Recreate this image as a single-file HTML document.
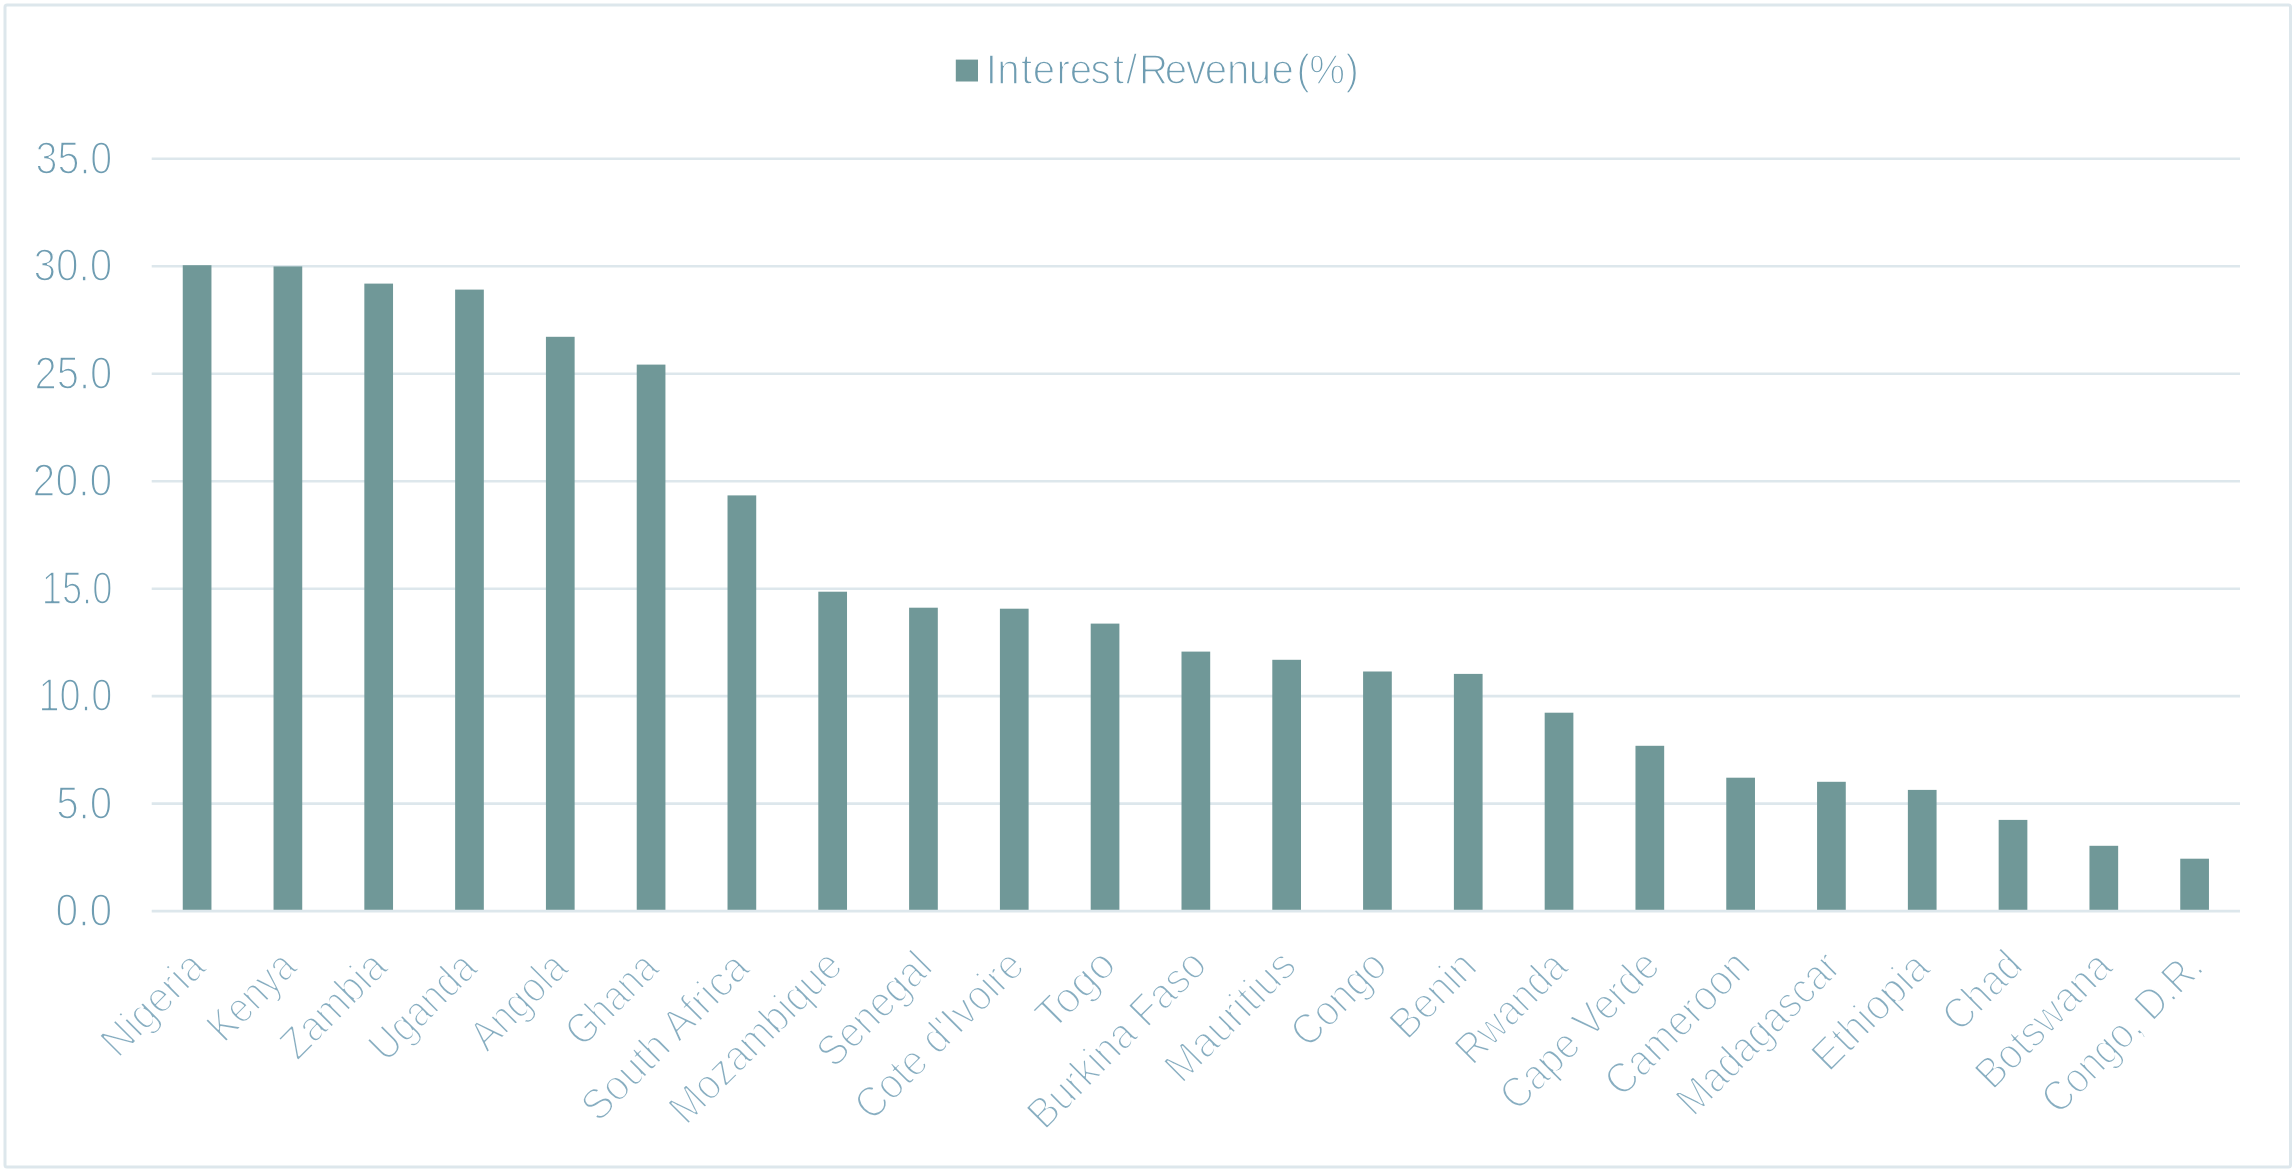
<!DOCTYPE html>
<html lang="en">
<head>
<meta charset="utf-8">
<title>Interest/Revenue (%) by country</title>
<style>
html,body{margin:0;padding:0;background:#fff;}
body{width:2296px;height:1173px;overflow:hidden;}
svg{display:block;will-change:transform;}
text{font-family:"Liberation Sans",sans-serif;fill:#6f9db2;stroke:#fff;stroke-linejoin:round;}
.yl text{font-size:45.5px;stroke-width:1.6px;text-anchor:end;}
.xl text{font-size:43.5px;stroke-width:1.9px;text-anchor:end;fill:#88aec1;}
.lg text{font-size:43px;stroke-width:1.4px;word-spacing:-7.2px;}
</style>
</head>
<body>
<svg width="2296" height="1173" viewBox="0 0 2296 1173">
<rect x="0" y="0" width="2296" height="1173" fill="#fff"/>
<rect class="frame" x="5" y="5" width="2285.5" height="1162" rx="2" ry="2" fill="none" stroke="#dde7ec" stroke-width="3"/>
<g class="grid" stroke="#dde7ec" stroke-width="2.7">
<line x1="151.7" y1="158.77" x2="2240.0" y2="158.77"/>
<line x1="151.7" y1="266.26" x2="2240.0" y2="266.26"/>
<line x1="151.7" y1="373.75" x2="2240.0" y2="373.75"/>
<line x1="151.7" y1="481.24" x2="2240.0" y2="481.24"/>
<line x1="151.7" y1="588.73" x2="2240.0" y2="588.73"/>
<line x1="151.7" y1="696.22" x2="2240.0" y2="696.22"/>
<line x1="151.7" y1="803.71" x2="2240.0" y2="803.71"/>
</g>
<g class="bars" fill="#709898">
<rect x="182.75" y="265.2" width="28.7" height="646.0"/>
<rect x="273.54" y="266.4" width="28.7" height="644.8"/>
<rect x="364.34" y="283.6" width="28.7" height="627.6"/>
<rect x="455.13" y="289.6" width="28.7" height="621.6"/>
<rect x="545.93" y="336.8" width="28.7" height="574.4"/>
<rect x="636.73" y="364.6" width="28.7" height="546.6"/>
<rect x="727.52" y="495.4" width="28.7" height="415.8"/>
<rect x="818.32" y="591.7" width="28.7" height="319.5"/>
<rect x="909.11" y="607.7" width="28.7" height="303.5"/>
<rect x="999.91" y="608.7" width="28.7" height="302.5"/>
<rect x="1090.70" y="623.6" width="28.7" height="287.6"/>
<rect x="1181.50" y="651.6" width="28.7" height="259.6"/>
<rect x="1272.30" y="659.8" width="28.7" height="251.4"/>
<rect x="1363.09" y="671.5" width="28.7" height="239.7"/>
<rect x="1453.89" y="673.9" width="28.7" height="237.3"/>
<rect x="1544.68" y="712.7" width="28.7" height="198.5"/>
<rect x="1635.48" y="745.8" width="28.7" height="165.4"/>
<rect x="1726.27" y="777.7" width="28.7" height="133.5"/>
<rect x="1817.07" y="781.8" width="28.7" height="129.4"/>
<rect x="1907.87" y="789.9" width="28.7" height="121.3"/>
<rect x="1998.66" y="819.9" width="28.7" height="91.3"/>
<rect x="2089.46" y="845.8" width="28.7" height="65.4"/>
<rect x="2180.25" y="858.7" width="28.7" height="52.5"/>
</g>
<line class="axis" x1="151.7" y1="911.20" x2="2240.0" y2="911.20" stroke="#dde7ec" stroke-width="2.7"/>
<g class="yl">
<text transform="translate(112.3 173.6) scale(0.867 1)">35.0</text>
<text transform="translate(112.3 281.1) scale(0.89 1)">30.0</text>
<text transform="translate(112.3 388.6) scale(0.879 1)">25.0</text>
<text transform="translate(112.3 496.0) scale(0.9 1)">20.0</text>
<text transform="translate(112.3 603.5) scale(0.797 1)">15.0</text>
<text transform="translate(112.3 711.0) scale(0.833 1)">10.0</text>
<text transform="translate(112.3 818.5) scale(0.888 1)">5.0</text>
<text transform="translate(112.3 926.0) scale(0.899 1)">0.0</text>
</g>
<g class="xl">
<text id="x0" transform="translate(208.13 969.14) rotate(-45) scale(0.9239 1)">Nigeria</text>
<text id="x1" transform="translate(298.93 969.14) rotate(-45) scale(0.8574 1)">Kenya</text>
<text id="x2" transform="translate(389.73 969.14) rotate(-45) scale(0.9004 1)">Zambia</text>
<text id="x3" transform="translate(479.52 970.14) rotate(-45) scale(0.8663 1)">Uganda</text>
<text id="x4" transform="translate(570.32 970.14) rotate(-45) scale(0.8686 1)">Angola</text>
<text id="x5" transform="translate(661.11 970.14) rotate(-45) scale(0.8480 1)">Ghana</text>
<text id="x6" transform="translate(751.91 970.14) rotate(-45) scale(0.9244 1)">South Africa</text>
<text id="x7" transform="translate(844.70 968.14) rotate(-45) scale(0.8980 1)">Mozambique</text>
<text id="x8" transform="translate(934.50 969.14) rotate(-45) scale(0.8874 1)">Senegal</text>
<text id="x9" transform="translate(1026.30 968.14) rotate(-45) scale(0.8985 1)">Cote d&#39;Ivoire</text>
<text id="x10" transform="translate(1118.09 967.14) rotate(-45) scale(0.9745 1)">Togo</text>
<text id="x11" transform="translate(1208.89 967.14) rotate(-45) scale(0.9056 1)">Burkina Faso</text>
<text id="x12" transform="translate(1298.68 968.14) rotate(-45) scale(0.9352 1)">Mauritius</text>
<text id="x13" transform="translate(1389.48 968.14) rotate(-45) scale(0.8976 1)">Congo</text>
<text id="x14" transform="translate(1479.27 969.14) rotate(-45) scale(0.9156 1)">Benin</text>
<text id="x15" transform="translate(1570.07 969.14) rotate(-45) scale(0.8634 1)">Rwanda</text>
<text id="x16" transform="translate(1661.86 968.14) rotate(-45) scale(0.8903 1)">Cape Verde</text>
<text id="x17" transform="translate(1752.66 968.14) rotate(-45) scale(0.9105 1)">Cameroon</text>
<text id="x18" transform="translate(1842.46 969.14) rotate(-45) scale(0.8790 1)">Madagascar</text>
<text id="x19" transform="translate(1932.25 970.14) rotate(-45) scale(0.9280 1)">Ethiopia</text>
<text id="x20" transform="translate(2025.05 968.14) rotate(-45) scale(0.8877 1)">Chad</text>
<text id="x21" transform="translate(2114.84 969.14) rotate(-45) scale(0.9044 1)">Botswana</text>
<text id="x22" transform="translate(2205.64 969.14) rotate(-45) scale(0.8672 1)">Congo, D.R.</text>
</g>
<g class="lg">
<rect x="955.8" y="59.6" width="22.2" height="21.9" fill="#709898"/>
<text transform="translate(985.4 83.8) scale(0.936 1)" x="0.43 12.69 38.07 50.71 75.84 89.99 112.35 136.30 150.27 164.24 191.70 214.41 234.41 258.10 281.48 305.80 319.05 332.31 345.98 384.61">Interest/Revenue (%)</text>
</g>
</svg>
</body>
</html>
